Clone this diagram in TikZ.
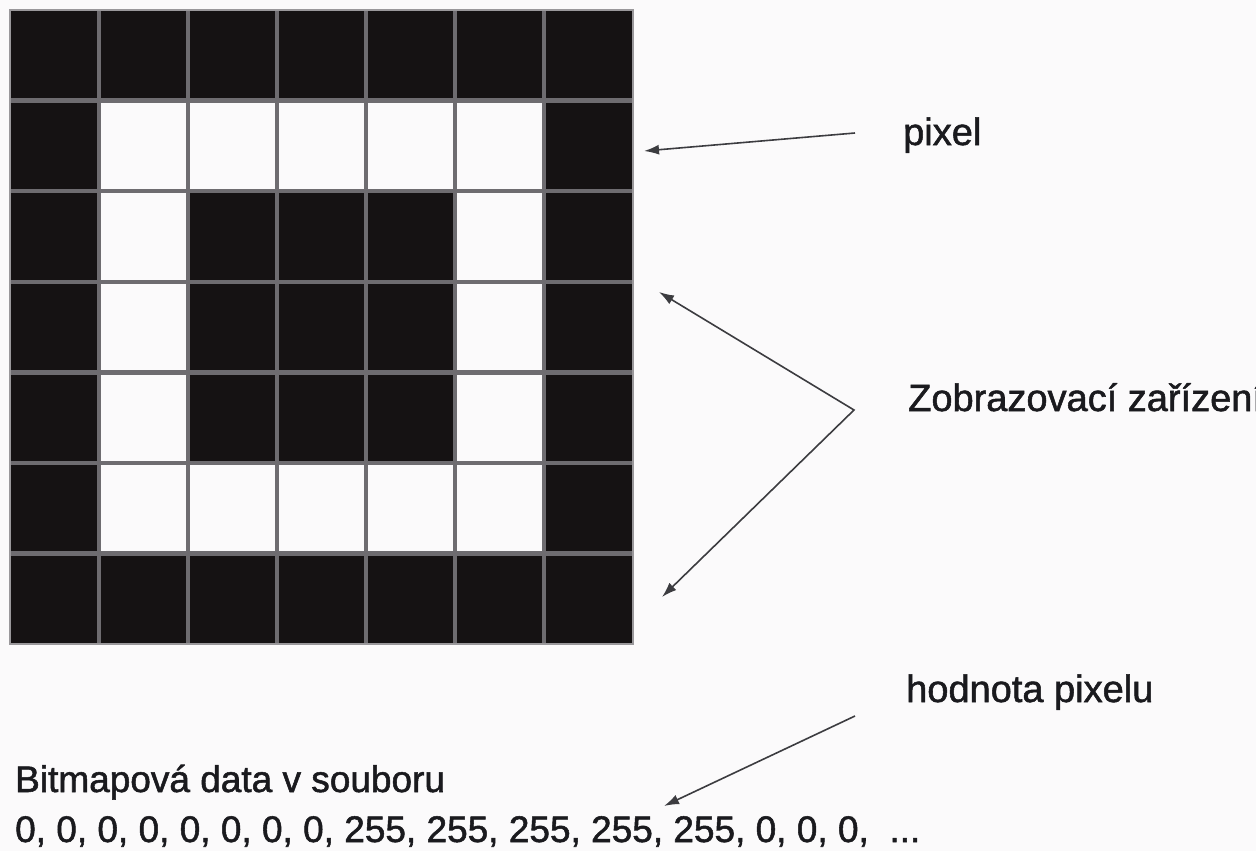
\documentclass[tikz,border=0pt]{standalone}
\usepackage{fontspec}
\setmainfont{Liberation Sans}[FakeBold=1.4]
\usetikzlibrary{arrows.meta}
\definecolor{paper}{HTML}{FBFAFB}
\definecolor{ink}{HTML}{1A1A1E}
\definecolor{pixblack}{HTML}{151213}
\definecolor{gridgray}{HTML}{6E6C70}
\definecolor{wirecol}{HTML}{3C3C40}

\begin{document}
\begin{tikzpicture}[x=1pt,y=-1pt,
  lbl/.style={anchor=base west,inner sep=0pt,text=ink,font=\fontsize{38}{44}\selectfont},
  datalbl/.style={lbl,font=\fontsize{37}{44}\selectfont},
  ptr/.style={draw=wirecol,line width=1.6pt,-{Latex[length=15pt,width=10pt]}}]
\useasboundingbox[fill=paper] (0,0) rectangle (1256,851);

% Pixel grid, 7x7 cells
\begin{scope}[shift={(10,10)},x=89pt,y=-90.6pt]
  % Black field
  \fill[pixblack] (0,0) rectangle (7,7);
  % White pixels
  \foreach \c in {1,...,5} {
    \fill[paper] (\c,1) rectangle (\c+1,2);
    \fill[paper] (\c,5) rectangle (\c+1,6);
  }
  \foreach \r in {2,3,4} {
    \fill[paper] (1,\r) rectangle (2,\r+1);
    \fill[paper] (5,\r) rectangle (6,\r+1);
  }
  % Grid lines
  \foreach \i in {1,...,6} {
    \draw[gridgray,line width=4.5pt] (\i,0) -- (\i,7);
    \draw[gridgray,line width=4.5pt] (0,\i) -- (7,\i);
  }
  \draw[gridgray!70,line width=1.5pt] (0,0) rectangle (7,7);
\end{scope}

% Labels
\node[lbl] (lblpixel) at (903,145) {pixel};
\node[lbl] (lbldevice) at (908,411) {Zobrazovací zařízení};
\node[lbl] (lblvalue) at (906,702) {hodnota pixelu};
\node[datalbl] (lblfile) at (15,792) {Bitmapová data v souboru};
\node[datalbl] (lbldata) at (15,842) {0, 0, 0, 0, 0, 0, 0, 0, 255, 255, 255, 255, 255, 0, 0, 0, \ ...};

% Pointers
\coordinate (pxtail) at (855,133);
\coordinate (pxtip) at (644,151);
\draw[ptr] (pxtail) -- (pxtip);

\coordinate (devknee) at (854,410);
\coordinate (devtop) at (659,292);
\coordinate (devbottom) at (662,597);
\draw[ptr,{Latex[length=15pt,width=10pt]}-{Latex[length=15pt,width=10pt]}] (devtop) -- (devknee) -- (devbottom);

\coordinate (valtail) at (855,716);
\coordinate (valtip) at (664,806);
\draw[ptr] (valtail) -- (valtip);

\end{tikzpicture}
\end{document}
